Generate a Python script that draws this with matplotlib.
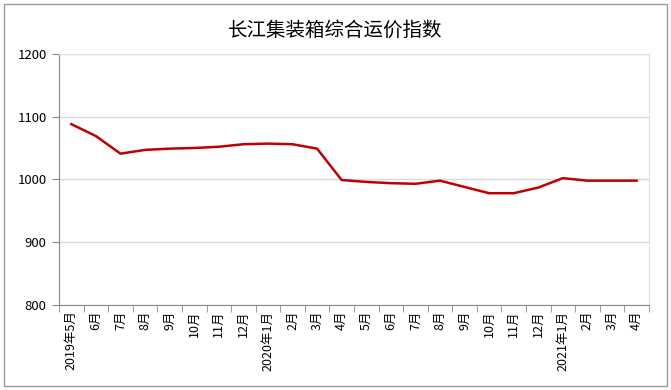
import numpy as np
import matplotlib.pyplot as plt
from matplotlib.patches import Rectangle

plt.rcParams['font.family'] = ['Noto Sans CJK SC', 'DejaVu Sans']

# data
months = ['2019年5月', '6月', '7月', '8月', '9月', '10月', '11月', '12月',
          '2020年1月', '2月', '3月', '4月', '5月', '6月', '7月', '8月',
          '9月', '10月', '11月', '12月', '2021年1月', '2月', '3月', '4月']
index = [1088, 1069, 1041, 1047, 1049, 1050, 1052, 1056,
         1057, 1056, 1049, 999, 996, 994, 993, 998,
         988, 978, 978, 987, 1002, 998, 998, 998]

fig = plt.figure(figsize=(6.71, 3.90), dpi=100)
fig.patches.append(Rectangle((0.006, 0.01), 0.988, 0.98, transform=fig.transFigure,
                             fill=False, edgecolor='#9a9a9a', linewidth=1))
fig.text(0.5, 0.922, '长江集装箱综合运价指数', ha='center', va='center', fontsize=14)

ax = fig.add_axes([0.088, 0.218, 0.879, 0.644])
xs = np.arange(len(months))
ax.plot(xs, index, color='#C00000', linewidth=1.8)

ax.set_xlim(-0.5, len(months) - 0.5)
ax.set_ylim(800, 1200)
ax.set_yticks([800, 900, 1000, 1100, 1200])
ax.set_xticks(xs)
ax.set_xticklabels(months, rotation=90, fontsize=9)
ax.set_xticks(np.arange(len(months) + 1) - 0.5, minor=True)
ax.tick_params(axis='x', which='major', length=0, pad=4)
ax.tick_params(axis='x', which='minor', length=5, color='#888888', direction='out')
ax.tick_params(axis='y', length=5, color='#888888', labelsize=9.5, pad=4)

ax.yaxis.grid(True, color='#d9d9d9', linewidth=1)
ax.set_axisbelow(True)
for s in ['left', 'bottom']:
    ax.spines[s].set_color('#888888')
for s in ['top', 'right']:
    ax.spines[s].set_color('#e6e2d3')

plt.savefig('out.png', dpi=100)
